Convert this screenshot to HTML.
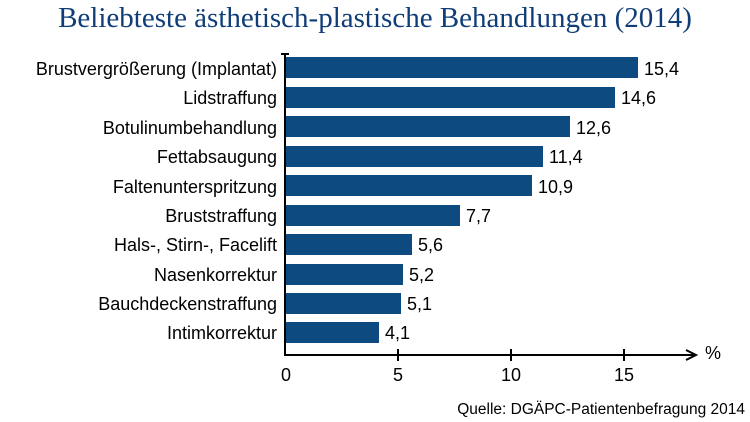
<!DOCTYPE html>
<html><head><style>
body{margin:0;background:#fff}
svg{display:block}
</style></head><body>
<svg width="750" height="422" xmlns="http://www.w3.org/2000/svg">
<text x="375" y="27" text-anchor="middle" font-family="Liberation Serif, serif" font-size="29" fill="#0f3d78">Beliebteste ästhetisch-plastische Behandlungen (2014)</text>
<g font-family="Liberation Sans, sans-serif" font-size="18" fill="#000">
<g fill="#0d4a80">
<rect x="286" y="57" width="352" height="21"/>
<rect x="286" y="87" width="329" height="21"/>
<rect x="286" y="116" width="284" height="21"/>
<rect x="286" y="146" width="257" height="21"/>
<rect x="286" y="175" width="246" height="21"/>
<rect x="286" y="205" width="174" height="21"/>
<rect x="286" y="234" width="126" height="21"/>
<rect x="286" y="264" width="117" height="21"/>
<rect x="286" y="293" width="115" height="21"/>
<rect x="286" y="322" width="93" height="21"/>
</g>
<g text-anchor="end">
<text x="277" y="75">Brustvergrößerung (Implantat)</text>
<text x="277" y="104">Lidstraffung</text>
<text x="277" y="134">Botulinumbehandlung</text>
<text x="277" y="163">Fettabsaugung</text>
<text x="277" y="193">Faltenunterspritzung</text>
<text x="277" y="222">Bruststraffung</text>
<text x="277" y="251">Hals-, Stirn-, Facelift</text>
<text x="277" y="281">Nasenkorrektur</text>
<text x="277" y="310">Bauchdeckenstraffung</text>
<text x="277" y="339">Intimkorrektur</text>
</g>
<text x="644" y="75">15,4</text>
<text x="621" y="104">14,6</text>
<text x="576" y="134">12,6</text>
<text x="549" y="163">11,4</text>
<text x="538" y="193">10,9</text>
<text x="466" y="222">7,7</text>
<text x="418" y="251">5,6</text>
<text x="409" y="281">5,2</text>
<text x="407" y="310">5,1</text>
<text x="385" y="339">4,1</text>
<g stroke="#000" stroke-width="2" fill="none">
<line x1="285" y1="54" x2="285" y2="356"/>
<line x1="281" y1="54" x2="289" y2="54"/>
<line x1="284" y1="355" x2="694" y2="355"/>
<line x1="398" y1="349" x2="398" y2="361"/>
<line x1="511" y1="349" x2="511" y2="361"/>
<line x1="624" y1="349" x2="624" y2="361"/>
<polyline points="686,350 696,355 686,360"/>
</g>
<g text-anchor="middle">
<text x="286" y="381">0</text>
<text x="398" y="381">5</text>
<text x="511" y="381">10</text>
<text x="624" y="381">15</text>
</g>
<text x="705" y="359">%</text>
<text x="745" y="414" text-anchor="end" font-size="15.5">Quelle: DGÄPC-Patientenbefragung 2014</text>
</g>
</svg>
</body></html>
